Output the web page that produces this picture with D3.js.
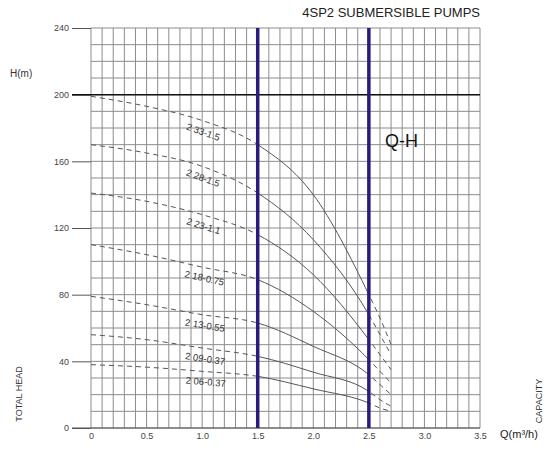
<!DOCTYPE html>
<html>
<head>
<meta charset="utf-8">
<script src="https://cdn.jsdelivr.net/npm/d3@7"></script>
<style>
  body { margin: 0; background: #fff; }
  svg { font-family: "Liberation Sans", Arial, sans-serif; }
  .tick text { fill: #444; font-size: 9px; }
</style>
</head>
<body>
<div id="chart"></div>
<script>
// pump models (stages - kW) and Q-H readings
var models = ["2 33-1.5", "2 28-1.5", "2 23-1.1", "2 18-0.75", "2 13-0.55", "2 09-0.37", "2 06-0.37"];
var flow = [0, 0.5, 1.0, 1.5, 2.0, 2.5, 2.6, 2.7];
var head33 = [199, 193, 184.5, 170, 140, 80, 66, 50];
var head28 = [170, 165, 157, 141, 113, 68, 56, 44];
var head23 = [141, 136, 128, 116, 92, 53, 44, 35];
var head18 = [110, 104, 96.5, 89, 70, 41, 34, 27];
var head13 = [79, 74, 68, 63, 49, 32, 26, 20];
var head09 = [56, 53, 48, 43, 33.5, 22, 17, 13];
var head06 = [38, 36.5, 34, 31, 23.5, 15, 12, 10];
var heads = [head33, head28, head23, head18, head13, head09, head06];

var xTicks = [0, 0.5, 1.0, 1.5, 2.0, 2.5, 3.0, 3.5];
var yTicks = [0, 40, 80, 120, 160, 200, 240];
var workRange = [1.5, 2.5];

var width = 550, height = 454;
var svg = d3.select("#chart").append("svg")
    .attr("width", width)
    .attr("height", height);

var x = d3.scaleLinear().domain([0, 3.5]).range([91, 480]);
var y = d3.scaleLinear().domain([0, 240]).range([428, 28]);

// fine grid, 0.1 m3/h by 10 m
var grid = svg.append("g").attr("class", "grid");
grid.selectAll(".vline")
    .data(d3.range(0, 36).map(i => i / 10))
    .enter().append("line")
    .attr("x1", d => x(d)).attr("x2", d => x(d))
    .attr("y1", y(0)).attr("y2", y(240))
    .attr("stroke", "#8c8c8c").attr("stroke-width", 1);
grid.selectAll(".hline")
    .data(d3.range(0, 25).map(i => i * 10))
    .enter().append("line")
    .attr("x1", x(0)).attr("x2", x(3.5))
    .attr("y1", d => y(d)).attr("y2", d => y(d))
    .attr("stroke", "#8c8c8c").attr("stroke-width", 1);

// axes
var yAxis = svg.append("g")
    .attr("transform", "translate(" + x(0) + ",0)")
    .call(d3.axisLeft(y).tickValues(yTicks).tickSize(19).tickPadding(3));
yAxis.select(".domain").remove();
yAxis.selectAll(".tick line").attr("stroke", "#555");

var xAxis = svg.append("g")
    .attr("transform", "translate(0," + y(0) + ")")
    .call(d3.axisBottom(x).tickValues(xTicks).tickSize(0).tickPadding(5)
        .tickFormat(d => d === 0 ? "0" : d3.format(".1f")(d)));
xAxis.select(".domain")
    .attr("d", "M" + (x(0) - 19) + ",0H" + x(3.5))
    .attr("stroke", "#555");

// heavy 200 m line
svg.append("line")
    .attr("x1", x(0) - 19).attr("x2", x(3.5))
    .attr("y1", y(200)).attr("y2", y(200))
    .attr("stroke", "#111").attr("stroke-width", 1.5);

// clip regions: outside / inside recommended range
var defs = svg.append("defs");
defs.append("clipPath").attr("id", "clip-in").append("rect")
    .attr("x", x(workRange[0])).attr("y", 0)
    .attr("width", x(workRange[1]) - x(workRange[0])).attr("height", height);
var clipOut = defs.append("clipPath").attr("id", "clip-out");
clipOut.append("rect")
    .attr("x", 0).attr("y", 0)
    .attr("width", x(workRange[0])).attr("height", height);
clipOut.append("rect")
    .attr("x", x(workRange[1])).attr("y", 0)
    .attr("width", width - x(workRange[1])).attr("height", height);

var line = d3.line()
    .x(d => x(d[0]))
    .y(d => y(d[1]))
    .curve(d3.curveMonotoneX);

var curves = svg.append("g").attr("class", "curves");
heads.forEach(function(h, i) {
    var pts = flow.map((q, j) => [q, h[j]]);
    curves.append("path")
        .attr("d", line(pts))
        .attr("fill", "none")
        .attr("stroke", "#555")
        .attr("stroke-width", 1)
        .attr("stroke-dasharray", "5,4")
        .attr("clip-path", "url(#clip-out)");
    curves.append("path")
        .attr("d", line(pts))
        .attr("fill", "none")
        .attr("stroke", "#555")
        .attr("stroke-width", 1)
        .attr("clip-path", "url(#clip-in)");

    // model label under the dashed part
    var hAt = d3.scaleLinear().domain(flow).range(h);
    var q0 = 0.8, q1 = 1.25, qc = 1.04;
    var dx = x(q1) - x(q0), dy = y(hAt(q1)) - y(hAt(q0));
    var ang = Math.atan2(dy, dx);
    var off = 11;
    var lx = x(qc) - Math.sin(ang) * off;
    var ly = y(hAt(qc)) + Math.cos(ang) * off;
    curves.append("text")
        .attr("transform", "translate(" + lx + "," + ly + ") rotate(" + (ang * 180 / Math.PI) + ")")
        .attr("text-anchor", "middle")
        .attr("dominant-baseline", "middle")
        .attr("font-size", 9.5)
        .attr("fill", "#333")
        .text(models[i]);
});

// recommended working range markers
svg.selectAll(".range")
    .data(workRange)
    .enter().append("line")
    .attr("x1", d => x(d)).attr("x2", d => x(d))
    .attr("y1", y(0)).attr("y2", y(240))
    .attr("stroke", "#2b1a80")
    .attr("stroke-width", 3.5);

// texts
svg.append("text")
    .attr("x", 480).attr("y", 17)
    .attr("text-anchor", "end")
    .attr("font-size", 13)
    .attr("fill", "#222")
    .text("4SP2 SUBMERSIBLE PUMPS");

svg.append("text")
    .attr("x", 10).attr("y", 77)
    .attr("font-size", 10)
    .attr("fill", "#333")
    .text("H(m)");

svg.append("text")
    .attr("x", 385).attr("y", 147)
    .attr("font-size", 18)
    .attr("fill", "#111")
    .text("Q-H");

svg.append("text")
    .attr("transform", "translate(22,394) rotate(-90)")
    .attr("text-anchor", "middle")
    .attr("font-size", 9)
    .attr("fill", "#333")
    .text("TOTAL HEAD");

svg.append("text")
    .attr("transform", "translate(542,401) rotate(-90)")
    .attr("text-anchor", "middle")
    .attr("font-size", 9)
    .attr("fill", "#333")
    .text("CAPACITY");

svg.append("text")
    .attr("x", 500).attr("y", 438)
    .attr("font-size", 11)
    .attr("fill", "#222")
    .text("Q(m³/h)");
</script>
</body>
</html>
